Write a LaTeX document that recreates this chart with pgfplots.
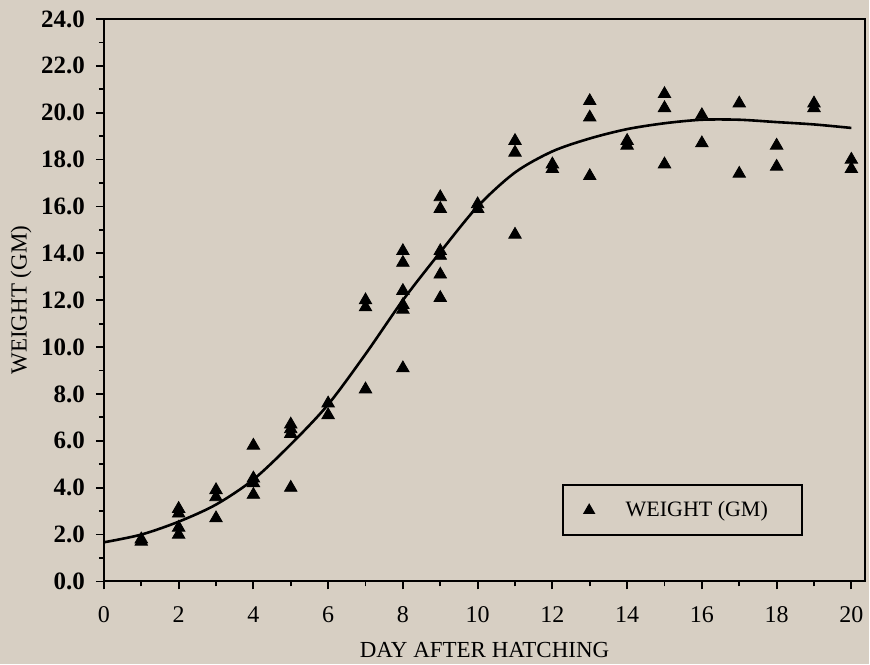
\documentclass[border=0pt]{standalone}
\usepackage{fontspec}
\setmainfont{Liberation Serif}
\usepackage{pgfplots}
\pgfplotsset{compat=1.18}
\usetikzlibrary{backgrounds}
\definecolor{paper}{RGB}{215,207,195}

\begin{document}
\begin{tikzpicture}
\begin{axis}[
    at={(0pt,0pt)}, anchor=south west,
    scale only axis,
    width=381pt, height=281.5pt,
    xmin=0, xmax=20.37,
    ymin=0, ymax=24,
    xtick={0,2,...,20},
    ytick={0,2,...,24},
    minor x tick num=1,
    minor y tick num=1,
    tick pos=left,
    tick align=outside,
    major tick length=4pt,
    minor tick length=2.5pt,
    every tick/.style={black, line width=0.9pt},
    axis line style={line width=1pt},
    /pgf/number format/assume math mode=true,
    yticklabel style={/pgf/number format/fixed, /pgf/number format/fixed zerofill,
        /pgf/number format/precision=1, font=\fontsize{12.5}{14}\selectfont\bfseries, xshift=-2pt},
    xticklabel style={font=\fontsize{12}{14}\selectfont, yshift=-5pt},
    xlabel={DAY AFTER HATCHING},
    ylabel={WEIGHT (GM)},
    xlabel style={font=\fontsize{11.5}{14}\selectfont, yshift=-3pt},
    ylabel style={font=\fontsize{11.5}{14}\selectfont, yshift=-2pt},
    legend style={at={(0.602,0.080)}, anchor=south west, draw=black, line width=1pt,
        fill=paper, inner xsep=6pt, inner ysep=6pt,
        font=\fontsize{11}{13}\selectfont},
    legend image code/.code={\path (0pt,0pt) (1pt,0pt);
        \draw[mark size=2.6pt] plot coordinates {(6.5pt,0pt)};},
]
% fitted growth curve
\addplot[black, line width=1.3pt, smooth, forget plot] coordinates {
    (0,1.67)(1,2.0)(2,2.55)(3,3.28)(4,4.35)(5,5.85)(6,7.55)(7,9.7)(8,12.0)
    (9,14.05)(10,16.0)(11,17.45)(12,18.35)(13,18.9)(14,19.3)(15,19.55)
    (16,19.7)(17,19.7)(18,19.6)(19,19.5)(20,19.35)
};
% individual weights
\addplot[only marks, mark=triangle*, mark size=3.6pt, black] coordinates {
    (1,1.8)(1,1.7)
    (2,3.1)(2,2.9)(2,2.3)(2,2.0)
    (3,3.9)(3,3.6)(3,2.7)
    (4,5.8)(4,4.4)(4,4.2)(4,3.7)
    (5,6.7)(5,6.5)(5,6.3)(5,4.0)
    (6,7.6)(6,7.1)
    (7,12.0)(7,11.7)(7,8.2)
    (8,14.1)(8,13.6)(8,12.4)(8,11.8)(8,11.6)(8,9.1)
    (9,16.4)(9,15.9)(9,14.1)(9,13.9)(9,13.1)(9,12.1)
    (10,16.1)(10,15.9)
    (11,18.8)(11,18.3)(11,14.8)
    (12,17.8)(12,17.6)
    (13,20.5)(13,19.8)(13,17.3)
    (14,18.8)(14,18.6)
    (15,20.8)(15,20.2)(15,17.8)
    (16,19.9)(16,18.7)
    (17,20.4)(17,17.4)
    (18,18.6)(18,17.7)
    (19,20.4)(19,20.2)
    (20,18.0)(20,17.6)
};
\addlegendentry{\hspace*{14pt}WEIGHT (GM)\hspace*{9pt}\mbox{}}
\end{axis}
\begin{scope}[on background layer]
\fill[paper] (-52pt,-41.5pt) rectangle (383pt,291pt);
\end{scope}
\end{tikzpicture}
\end{document}
